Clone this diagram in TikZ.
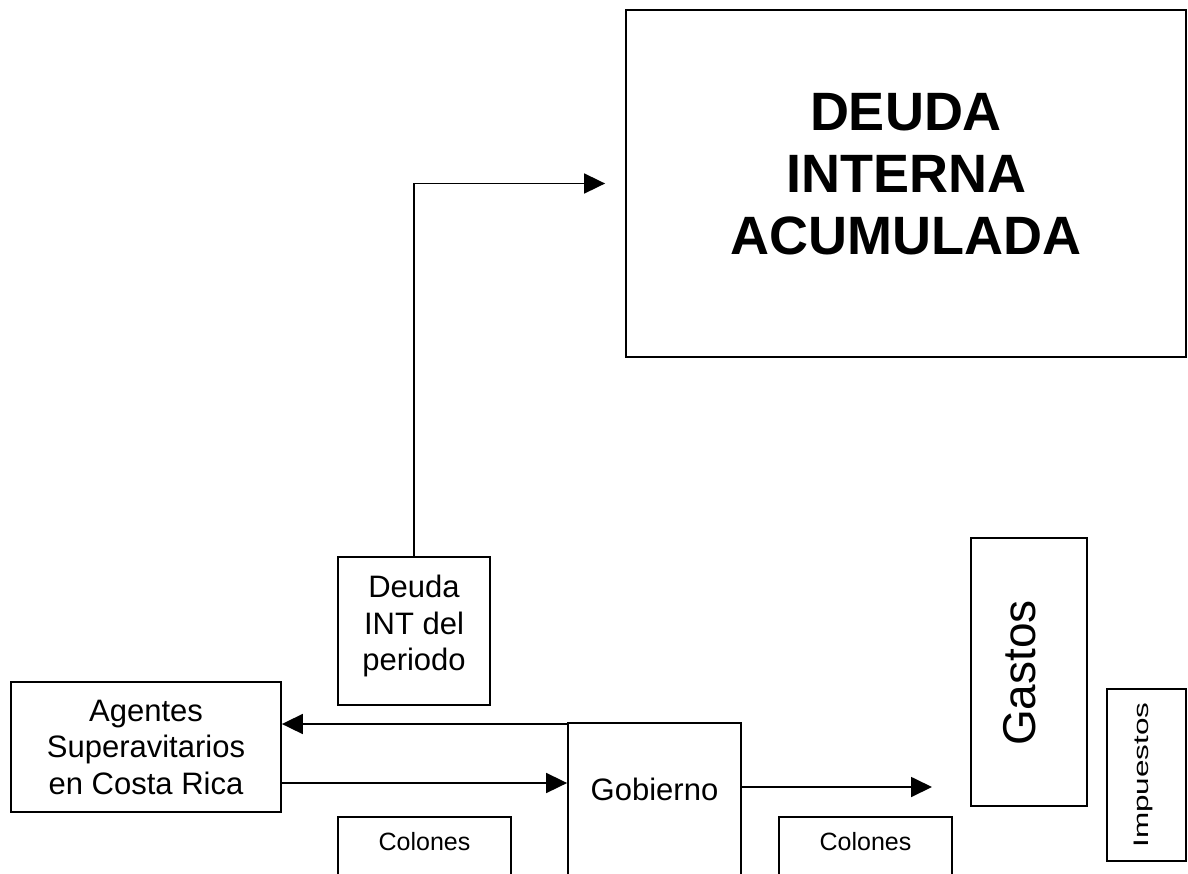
\documentclass[tikz,border=0pt]{standalone}
\usepackage{fontspec}
\setmainfont{Liberation Sans}
\usetikzlibrary{arrows.meta,calc}
\begin{document}
\begin{tikzpicture}[x=1pt,y=-1pt,
  box/.style={draw, line width=1.8pt, inner sep=0pt},
  arr/.style={line width=1.8pt, -{Triangle[length=21pt,width=20pt]}},
  main/.style={font=\fontsize{31}{36.5}\selectfont}]
\useasboundingbox (0,0) rectangle (1188,873);
% big box
\node[box, minimum width=560, minimum height=347] (deuda) at (906,183.5) {};
\node[font=\bfseries\fontsize{54}{62}\selectfont, align=center] (deudatxt) at (906,174) {DEUDA\\INTERNA\\ACUMULADA};
% deuda del periodo
\node[box, minimum width=152, minimum height=148] (dint) at (414,631) {};
\node[main, align=center] (dinttxt) at (414,626) {Deuda\\INT del\\periodo};
% agentes
\node[box, main, align=center, minimum width=270, minimum height=130] (ag) at (146,747) {Agentes\\Superavitarios\\en Costa Rica};
% gobierno
\node[box, main, anchor=north, minimum width=173, text height=78, text depth=100] (gob) at (654.5,722) {Gobierno};
% colones
\node[box, font=\fontsize{25}{30}\selectfont, anchor=north, minimum width=173, text height=34, text depth=80] (col1) at (424.5,816) {Colones};
\node[box, font=\fontsize{25}{30}\selectfont, anchor=north, minimum width=173, text height=34, text depth=80] (col2) at (865.5,816) {Colones};
% gastos
\node[box, minimum width=116, minimum height=268] (gastos) at (1029,672) {};
\node[rotate=90, font=\fontsize{46}{50}\selectfont] (gtxt) at (1020,673) {Gastos};
% impuestos
\node[box, minimum width=79, minimum height=172] (imp) at (1146.5,775) {};
\node[rotate=90, font=\fontsize{21}{25}\selectfont] (itxt) at (1143,775) {\scalebox{1.5}[1]{Impuestos}};
% arrows
\draw[arr] (gob.west |- 0,724) -- (ag.east |- 0,724);
\draw[arr] (ag.east |- 0,783) -- (gob.west |- 0,783);
\coordinate (gend) at (932,787);
\draw[arr] (gob.east |- gend) -- (gend);
\draw[arr, shorten >=20pt] (dint.north) |- (deuda.west);
\end{tikzpicture}
\end{document}
